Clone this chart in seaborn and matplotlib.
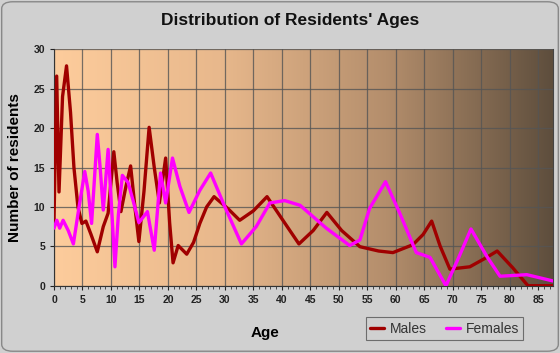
import numpy as np
import pandas as pd
import matplotlib
matplotlib.use('Agg')
import matplotlib.pyplot as plt
import seaborn as sns
from matplotlib.colors import LinearSegmentedColormap
from matplotlib.patches import FancyBboxPatch

# valores
male_age = [0, 0.47, 0.88, 1.5, 2.2, 2.9, 3.5, 4.2, 4.9, 5.6, 6.5, 7.6, 8.65, 9.5,
            10.5, 11.1, 11.75, 12.6, 13.45, 14.2, 14.9, 15.8, 16.7, 17.6, 18.5,
            19.6, 20.3, 20.9, 21.8, 23.3, 24.5, 25.6, 26.8, 28.1, 30.5,
            32.6, 35.0, 37.4, 40.0, 43.0, 45.5, 47.9, 50.5, 53.7, 57.0, 59.5, 63.0,
            64.8, 66.3, 67.8, 69.5, 73.0, 75.5, 77.8, 80.5, 83.2, 87.6]
male_val = [8.3, 26.6, 11.9, 24.0, 27.9, 22.0, 15.0, 10.0, 7.9, 8.2, 6.5, 4.3, 7.5, 9.2,
            17.0, 13.0, 9.4, 12.5, 15.2, 10.0, 5.6, 12.0, 20.1, 15.0, 10.5,
            16.2, 8.0, 2.9, 5.1, 4.0, 5.5, 7.9, 10.0, 11.3, 9.8,
            8.3, 9.5, 11.3, 8.5, 5.3, 7.0, 9.3, 7.0, 4.95, 4.4, 4.2, 5.2,
            6.5, 8.2, 5.0, 2.1, 2.4, 3.4, 4.4, 2.3, 0.0, 0.0]

female_age = [0, 0.5, 1.0, 1.6, 2.5, 3.4, 4.4, 5.4, 6.0, 6.6, 7.6, 8.1, 8.65, 9.5,
              10.1, 10.7, 11.3, 12.0, 13.0, 14.0, 14.9, 16.4, 17.6, 18.7, 19.6,
              20.8, 22.1, 23.7, 25.6, 27.5, 30.0, 32.9, 35.5, 37.9, 40.5, 43.2,
              47.8, 51.9, 53.7, 55.4, 58.2, 60.7, 63.6, 66.0, 68.8, 71.0, 73.2,
              76.0, 78.3, 83.0, 87.6]
female_val = [7.3, 8.3, 7.3, 8.3, 7.0, 5.3, 10.0, 14.5, 12.0, 7.9, 19.2, 15.0, 9.6, 17.3,
              10.0, 2.4, 9.0, 14.0, 13.1, 10.5, 8.0, 9.4, 4.5, 14.3, 10.5,
              16.2, 12.6, 9.3, 12.1, 14.3, 10.0, 5.3, 7.5, 10.5, 10.8, 10.2,
              7.3, 5.1, 5.8, 9.8, 13.2, 9.2, 4.2, 3.6, 0.0, 3.5, 7.2,
              3.7, 1.2, 1.4, 0.6]

df = pd.concat([
    pd.DataFrame({'Age': male_age, 'Residents': male_val, 'Sex': 'Males'}),
    pd.DataFrame({'Age': female_age, 'Residents': female_val, 'Sex': 'Females'}),
], ignore_index=True)

plt.rcParams['font.family'] = ['Liberation Sans', 'DejaVu Sans']
bg = '#d0d0d0'

fig = plt.figure(figsize=(5.6, 3.53), dpi=100, facecolor=bg)
ax = fig.add_axes([54 / 560, 1 - 285.7 / 353, (553 - 54) / 560, (285.7 - 49.3) / 353])

# fundo em degradê
cmap = LinearSegmentedColormap.from_list('grad', ['#fdcc9c', '#e8b88c', '#b48e6c', '#5e4e3d'])
ax.imshow(np.linspace(0, 1, 256).reshape(1, -1), cmap=cmap, aspect='auto',
          extent=[0, 87.6, 0, 30], zorder=0)

sns.lineplot(data=df, x='Age', y='Residents', hue='Sex',
             palette={'Males': '#a00000', 'Females': '#ff00ff'},
             linewidth=2.4, ax=ax, sort=False, zorder=3,
             solid_joinstyle='round', solid_capstyle='round')

ax.set_xlim(0, 87.6)
ax.set_ylim(0, 30)
ax.set_xticks(np.arange(0, 90, 5))
ax.set_xticks(np.arange(0, 88, 1), minor=True)
ax.set_yticks(np.arange(0, 35, 5))
ax.grid(False, which='minor')
ax.grid(True, which='major', color='#555555', linewidth=0.9, alpha=0.8, zorder=1)
ax.spines['top'].set_visible(False)
ax.spines['right'].set_color('#444444')
ax.spines['left'].set_color('#333333')
ax.spines['bottom'].set_color('#333333')
ax.tick_params(axis='both', which='major', labelsize=7.5, length=3, colors='#222222')
ax.tick_params(axis='x', which='minor', length=2, color='#333333')
for lbl in ax.get_xticklabels() + ax.get_yticklabels():
    lbl.set_fontweight('bold')

ax.set_xlabel('Age', fontsize=11, fontweight='bold')
ax.set_ylabel('Number of residents', fontsize=11, fontweight='bold', labelpad=8)
ax.xaxis.set_label_coords((265 - 54) / (553 - 54), -0.17)
fig.text(0.518, 1 - 20 / 353, "Distribution of Residents' Ages", ha='center', va='center',
         fontsize=12.5, fontweight='bold', color='#111111')

leg = ax.legend(loc='upper left', bbox_to_anchor=((359 - 54) / 499, -0.105), ncol=2,
                frameon=True, fontsize=10, handlelength=1.0, handletextpad=0.4,
                columnspacing=1.4, borderpad=0.3, fancybox=False, title=None)
leg.get_frame().set_edgecolor('#555555')
leg.get_frame().set_facecolor(bg)
leg.get_frame().set_linewidth(0.8)
for t in leg.get_texts():
    t.set_color('#333333')

fig.patches.append(FancyBboxPatch((0.003, 0.005), 0.994, 0.99, boxstyle='round,pad=0,rounding_size=0.02',
                                  transform=fig.transFigure, fill=False, edgecolor='#888888',
                                  linewidth=1.0))

plt.savefig('out.png', dpi=100, facecolor=bg)
